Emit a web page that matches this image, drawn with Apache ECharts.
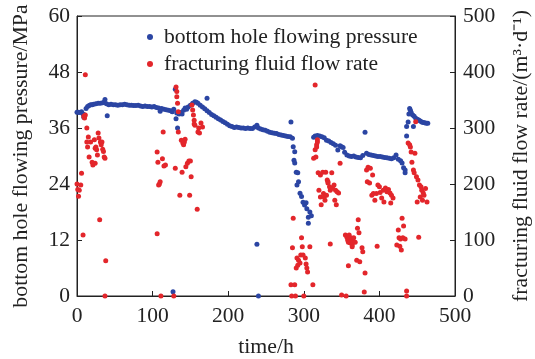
<!DOCTYPE html>
<html><head><meta charset="utf-8">
<script src="https://cdn.jsdelivr.net/npm/echarts@6/dist/echarts.min.js"></script>
<style>html,body{margin:0;padding:0;background:#fff}#c{width:535px;height:359px}</style>
</head><body><div id="c"></div>
<script>
var xTicks = [0,100,200,300,400,500];
var leftTicks = [0,12,24,36,48,60];
var rightTicks = [0,100,200,300,400,500];
var pressureName = 'bottom hole flowing pressure';
var flowName = 'fracturing fluid flow rate';

// [time h, pressure MPa]
var pressure = [
[0,39.4],[2,39.4],[4,39.3],[6,39.5],[8,39.0],[9,38.3],[10,38.8],[12,40.2],[14,40.6],[16,40.8],[18,41.0],[20,41.0],[22,41.1],[25,41.2],[28,41.3],[31,41.3],[34,41.4],[36,41.5],[37,42.1],[39,41.2],[40,38.6],[42,41.0],[45,41.1],[48,41.0],[51,41.0],[54,40.9],[57,41.0],[60,41.0],[63,41.1],[66,41.0],[69,40.9],[72,40.9],[75,40.8],[78,40.8],[81,40.9],[84,40.7],[87,40.6],[90,40.7],[93,40.6],[96,40.6],[99,40.5],[102,40.6],[105,40.4],[108,40.3],[110,39.6],[112,40.2],[115,40.0],[118,39.9],[121,39.8],[124,39.7],[126,39.5],[128,40.0],[130,44.3],[131,38.0],[132,39.2],[133,36.0],[135,39.0],[137,39.3],[139,39.0],[141,39.8],[143,40.3],[145,40.0],[147,40.5],[150,40.9],[153,41.3],[156,41.6],[158,41.5],[160,41.3],[163,40.9],[166,40.5],[169,40.1],[172,42.4],[172,39.7],[175,39.3],[178,38.9],[181,38.6],[184,38.3],[187,38.0],[190,37.7],[193,37.4],[196,37.1],[199,36.8],[202,36.5],[205,36.3],[208,36.1],[211,36.2],[214,36.1],[217,36.0],[220,36.0],[223,35.9],[226,36.0],[229,35.9],[232,35.9],[235,36.2],[238,36.6],[240,36.0],[243,35.8],[246,35.6],[249,35.5],[252,35.3],[255,35.1],[258,35.0],[261,34.9],[264,34.8],[267,34.6],[270,34.5],[273,34.4],[276,34.3],[279,34.2],[282,34.1],[283,37.3],[285,33.8],[286,32.0],[287,29.1],[288,30.9],[288,28.5],[290,26.5],[291,23.8],[292,26.4],[293,24.5],[295,22.0],[297,21.3],[299,20.1],[301,19.5],[303,20.0],[304,18.7],[306,16.9],[306,15.6],[308,18.0],[310,17.2],
[313,34.0],[315,34.3],[318,34.4],[321,34.3],[324,34.1],[327,33.9],[330,33.4],[333,33.2],[336,32.9],[339,32.6],[342,32.3],[345,31.3],[348,32.2],[350,32.0],[352,31.8],[354,30.8],[357,30.2],[360,30.0],[363,29.9],[366,30.0],[369,29.8],[372,29.7],[375,29.6],[378,30.1],[381,35.1],[383,30.6],[386,30.3],[389,30.2],[392,30.1],[395,30.0],[398,29.9],[401,29.9],[404,29.8],[407,29.7],[410,29.6],[413,29.5],[416,29.4],[419,29.6],[422,30.2],[425,29.3],[428,29.0],[430,28.5],[432,27.5],[434,27.0],[434,26.4],[436,34.3],[436,36.3],[438,37.3],[439,39.0],[440,40.2],[441,39.8],[442,39.3],[444,38.8],[445,36.3],[446,38.5],[448,38.1],[450,37.9],[452,37.7],[454,37.5],[456,37.3],[458,37.2],[460,37.1],[462,37.0],[464,37.0],
[127,0.9],[238,11.1],[240,0]
];

// [time h, flow rate m3/d]
var flow = [
[0,200],[1,190],[2,178],[3,189],[5,198],[6,219],[8,109],[9,321],[10,318],[11,395],[11,323],[13,300],[13,275],[14,266],[15,284],[16,248],[18,275],[20,239],[21,234],[23,279],[24,237],[24,264],[25,266],[26,261],[27,252],[28,291],[29,282],[30,136],[31,275],[32,270],[33,275],[34,262],[35,258],[36,248],[37,246],[37,0],[38,63],
[106,111],[106,257],[107,239],[108,198],[109,200],[110,204],[111,0],[113,245],[114,293],[115,232],[117,234],
[128,0],[130,228],[131,373],[132,365],[132,356],[133,344],[134,329],[134,293],[136,180],[138,278],[139,221],[140,273],[141,270],[142,275],[143,280],[144,231],[146,237],[148,241],[149,180],[150,241],[151,213],[152,341],[153,332],[154,323],[155,314],[155,307],[156,305],[159,155],[160,293],[161,300],[162,291],[164,309],[166,302],
[283,20],[284,0],[285,86],[286,139],[288,20],[289,0],[290,50],[291,68],[292,55],[293,64],[295,59],[296,73],[297,104],[298,88],[299,73],[300,0],[302,68],[303,57],[304,50],[305,43],[308,88],[312,20],[313,246],[315,261],[315,377],[316,248],[317,270],[317,266],[318,279],[318,275],[319,220],[320,189],[322,216],[322,177],[323,163],[325,221],[326,183],[327,177],[328,171],[329,221],[330,180],[331,207],[332,204],[332,202],[334,195],[335,189],[335,93],[336,193],[337,220],[338,193],[340,198],[341,171],[342,189],[343,163],[344,186],[346,184],[348,237],[350,2],
[355,109],[356,0],[357,105],[358,100],[359,96],[359,54],[360,109],[361,95],[362,104],[363,100],[364,88],[364,91],[365,96],[366,104],[368,96],[370,64],[371,121],[372,136],[373,113],[374,61],[377,86],[378,79],[380,7],[381,41],
[383,225],[384,204],[385,230],[387,202],[388,228],[390,180],[391,216],[392,183],[394,171],[396,183],[398,198],[400,195],[401,185],[403,175],[397,89],[405,189],[406,168],[408,193],[410,186],[412,190],[414,184],[415,166],[416,180],[418,175],
[423,91],[425,118],[426,104],[427,89],[428,102],[429,82],[430,139],[431,104],[432,125],[434,102],[436,9],[436,0],[438,273],[440,270],[441,266],[442,257],[443,239],[445,225],[446,220],[447,255],[448,311],[449,213],[450,168],[451,207],[452,105],[453,198],[454,177],[455,195],[456,189],[457,171],[458,184],[459,180],[461,192],[463,168]
];

var FONT = 'Liberation Serif';
var C = '#222';
var chart = echarts.init(document.getElementById('c'));
function axisCommon(ticks){
  return {
    min: ticks[0], max: ticks[ticks.length-1], interval: ticks[1]-ticks[0],
    axisLine:{show:true,lineStyle:{color:C,width:1}},
    axisTick:{show:true,inside:true,length:5,lineStyle:{color:C}},
    splitLine:{show:false},
    axisLabel:{color:C,fontFamily:FONT,fontSize:21.5},
    nameTextStyle:{color:C,fontFamily:FONT,fontSize:21.8}
  };
}
var xa = axisCommon(xTicks);
xa.type='value'; xa.name='time/h'; xa.nameLocation='middle'; xa.nameGap=40; xa.axisLabel.margin=9;
var ya = axisCommon(leftTicks);
ya.type='value'; ya.position='left'; ya.name='bottom hole flowing pressure/MPa'; ya.nameLocation='middle'; ya.nameRotate=90; ya.nameGap=45; ya.axisLabel.margin=7;
var yb = axisCommon(rightTicks);
yb.type='value'; yb.position='right'; yb.name='fracturing fluid flow rate/(m³·d⁻¹)'; yb.nameLocation='middle'; yb.nameRotate=90; yb.nameGap=55; yb.axisLabel.margin=8;

chart.setOption({
  animation:false,
  backgroundColor:'#fff',
  grid:{left:77,right:80,top:16,bottom:63,containLabel:false,outerBoundsMode:'none',show:true,borderColor:C,borderWidth:1,backgroundColor:'transparent'},
  legend:{
    orient:'vertical', left:142, top:21, itemGap:5, itemWidth:18, itemHeight:6,
    textStyle:{fontFamily:FONT,fontSize:21.6,color:C,lineHeight:21},
    data:[{name:pressureName,icon:'circle'},{name:flowName,icon:'circle'}]
  },
  xAxis:xa,
  yAxis:[ya,yb],
  series:[
    {name:pressureName,type:'scatter',yAxisIndex:0,data:pressure,symbolSize:5,itemStyle:{color:'#2b45a3',opacity:1}},
    {name:flowName,type:'scatter',yAxisIndex:1,data:flow,symbolSize:5,itemStyle:{color:'#e3262b',opacity:1}}
  ]
});
</script></body></html>
